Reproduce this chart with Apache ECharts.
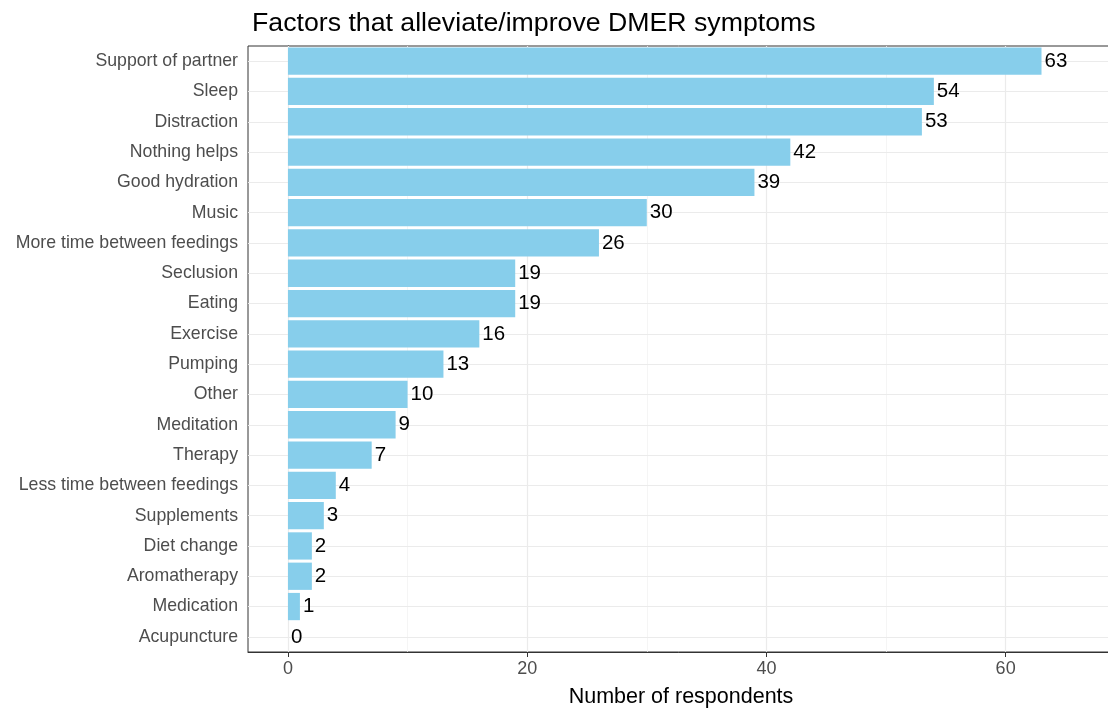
<!DOCTYPE html>
<html>
<head>
<meta charset="utf-8">
<script src="https://cdn.jsdelivr.net/npm/echarts@6/dist/echarts.min.js"></script>
<style>
  html, body { margin: 0; padding: 0; background: #fff; }
  #chart { width: 1108px; height: 711px; }
</style>
</head>
<body>
<div id="chart"></div>
<script>
// data, top to bottom
var factors = ['Support of partner', 'Sleep', 'Distraction', 'Nothing helps', 'Good hydration',
    'Music', 'More time between feedings', 'Seclusion', 'Eating', 'Exercise', 'Pumping', 'Other',
    'Meditation', 'Therapy', 'Less time between feedings', 'Supplements', 'Diet change',
    'Aromatherapy', 'Medication', 'Acupuncture'];
var respondents = [63, 54, 53, 42, 39, 30, 26, 19, 19, 16, 13, 10, 9, 7, 4, 3, 2, 2, 1, 0];
var xMajor = [0, 20, 40, 60];
var xMinor = [10, 30, 50];

var chart = echarts.init(document.getElementById('chart'));

// grid lines like ggplot (behind the bars)
var gridLines = [];
xMajor.forEach(function (v) {
    gridLines.push({ xAxis: v, lineStyle: { color: '#ebebeb', width: 1.2, type: 'solid' } });
});
xMinor.forEach(function (v) {
    gridLines.push({ xAxis: v, lineStyle: { color: '#f2f2f2', width: 0.8, type: 'solid' } });
});
factors.forEach(function (f) {
    gridLines.push({ yAxis: f, lineStyle: { color: '#ebebeb', width: 1.2, type: 'solid' } });
});

var option = {
    animation: false,
    backgroundColor: '#fff',
    title: {
        text: 'Factors that alleviate/improve DMER symptoms',
        left: 247,
        top: 5,
        textStyle: { fontFamily: 'Liberation Sans', fontSize: 26.7, fontWeight: 'normal', color: '#000' }
    },
    grid: {
        left: 248,
        top: 46,
        width: 866,
        height: 606,
        outerBoundsMode: 'none',
        containLabel: false,
        show: true,
        borderColor: '#333',
        borderWidth: 1,
        backgroundColor: '#fff'
    },
    xAxis: {
        type: 'value',
        min: -3.34,
        max: 69.06,
        name: 'Number of respondents',
        nameLocation: 'middle',
        nameGap: 34,
        nameTextStyle: { fontFamily: 'Liberation Sans', fontSize: 21.5, color: '#000' },
        axisLine: { show: true, lineStyle: { color: '#333' } },
        axisTick: { show: true, length: 5, customValues: xMajor, lineStyle: { color: '#333' } },
        axisLabel: {
            customValues: xMajor,
            margin: 8,
            fontFamily: 'Liberation Sans',
            fontSize: 18,
            color: '#4d4d4d'
        },
        splitLine: { show: false }
    },
    yAxis: {
        type: 'category',
        data: factors,
        inverse: true,
        axisLine: { show: true, lineStyle: { color: '#333' } },
        axisTick: { show: true, length: 5, alignWithLabel: true, lineStyle: { color: '#333' } },
        axisLabel: {
            margin: 10,
            fontFamily: 'Liberation Sans',
            fontSize: 17.7,
            color: '#4d4d4d'
        },
        splitLine: { show: false }
    },
    series: [
        {
            type: 'scatter',
            data: [],
            z: 1,
            silent: true,
            markLine: {
                silent: true,
                z: 1,
                symbol: 'none',
                label: { show: false },
                data: gridLines
            }
        },
        {
            type: 'bar',
            data: respondents,
            z: 3,
            barWidth: '90%',
            itemStyle: { color: '#87ceeb' },
            label: {
                show: true,
                position: 'right',
                distance: 3,
                fontFamily: 'Liberation Sans',
                fontSize: 20.5,
                color: '#000'
            }
        }
    ]
};

chart.setOption(option);
</script>
</body>
</html>
